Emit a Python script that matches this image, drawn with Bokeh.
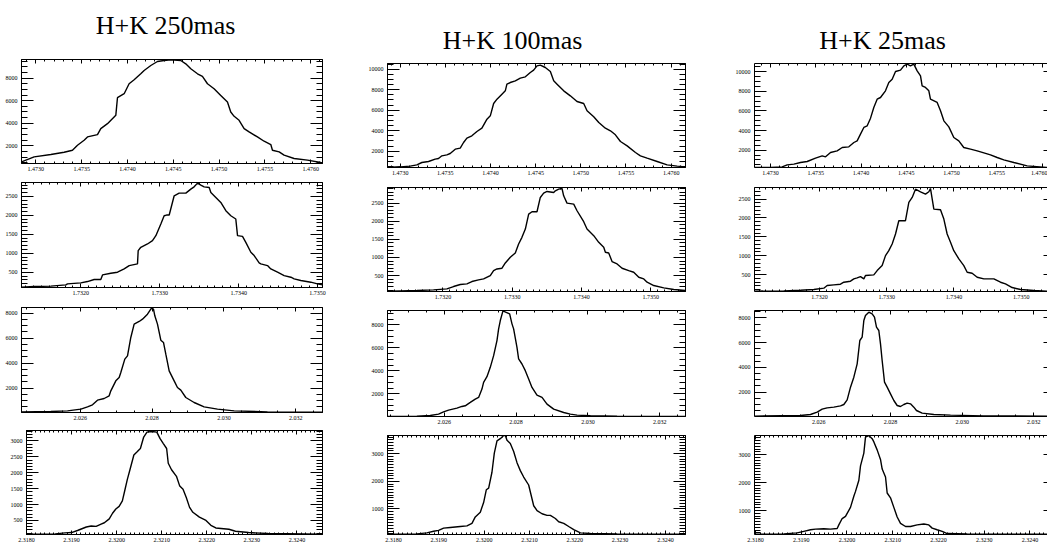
from bokeh.plotting import figure
from bokeh.layouts import row, column
from bokeh.models import Range1d, LinearAxis, SingleIntervalTicker, PrintfTickFormatter, Label
from bokeh.embed import file_html
from bokeh.resources import INLINE

# ---------------- data (wavelength in micron, counts) ----------------
titles = ["H+K 250mas", "H+K 100mas", "H+K 25mas"]

# column 1 : H+K 250mas
c1r1_wave = [1.472844, 1.472982, 1.473164, 1.473309, 1.473400, 1.473455, 1.473527, 1.473564, 1.473673, 1.473709,
             1.473782, 1.473873, 1.473891, 1.473964, 1.474018, 1.474073, 1.474145, 1.474182, 1.474255, 1.474327,
             1.474400, 1.474473, 1.474582, 1.474636, 1.474691, 1.474764, 1.474818, 1.474873, 1.474945, 1.475018,
             1.475091, 1.475127, 1.475164, 1.475218, 1.475273, 1.475327, 1.475418, 1.475491, 1.475564, 1.475582,
             1.475655, 1.475709, 1.475818, 1.475964, 1.476109]
c1r1_flux = [588, 1029, 1235, 1441, 1618, 2059, 2500, 2794, 3000, 3529,
             3970, 4706, 6265, 6618, 7500, 7853, 8382, 8676, 9117, 9470,
             9558, 9617, 9558, 9264, 8823, 8382, 8147, 7500, 7059, 6471,
             5882, 5000, 4617, 4265, 3529, 3235, 2794, 2412, 2118, 1618,
             1471, 1176, 882, 735, 529]

c1r2_wave = [1.731248, 1.731409, 1.731620, 1.731810, 1.731831, 1.732000, 1.732084, 1.732169, 1.732253, 1.732275,
             1.732380, 1.732465, 1.732549, 1.732613, 1.732718, 1.732727, 1.732760, 1.732845, 1.732908, 1.732951,
             1.733014, 1.733056, 1.733086, 1.733120, 1.733183, 1.733246, 1.733331, 1.733394, 1.733436, 1.733479,
             1.733521, 1.733563, 1.733627, 1.733648, 1.733711, 1.733774, 1.733838, 1.733901, 1.733964, 1.733986,
             1.734049, 1.734091, 1.734155, 1.734197, 1.734260, 1.734281, 1.734366, 1.734408, 1.734493, 1.734577,
             1.734662, 1.734704, 1.734788, 1.734915, 1.734999, 1.735063]
c1r2_flux = [105, 123, 132, 167, 193, 219, 254, 307, 307, 430,
             474, 500, 588, 675, 719, 1070, 1158, 1246, 1333, 1465,
             1772, 1991, 2009, 2009, 2518, 2588, 2588, 2693, 2754, 2851,
             2798, 2754, 2737, 2605, 2474, 2342, 2123, 1991, 1904, 1465,
             1447, 1289, 1026, 939, 746, 719, 675, 588, 500, 412,
             368, 325, 281, 237, 193, 167]

c1r3_wave = [2.024368, 2.025184, 2.025648, 2.026019, 2.026204, 2.026343, 2.026482, 2.026668, 2.026807, 2.026853,
             2.026992, 2.027085, 2.027131, 2.027242, 2.027317, 2.027409, 2.027502, 2.027641, 2.027734, 2.027873,
             2.027947, 2.027984, 2.028040, 2.028077, 2.028151, 2.028244, 2.028318, 2.028383, 2.028476, 2.028615,
             2.028707, 2.028800, 2.028939, 2.029171, 2.029449, 2.029820, 2.030284, 2.031211, 2.032741]
c1r3_flux = [106, 133, 186, 320, 506, 667, 1040, 1173, 1387, 1787,
             2587, 2853, 3253, 4320, 4587, 6054, 7121, 7334, 7521, 7921,
             8241, 8400, 8320, 7787, 7121, 5840, 5654, 4720, 3387, 2587,
             2053, 1840, 1253, 853, 506, 320, 186, 106, 80]

c1r4_wave = [2.318000, 2.318113, 2.318636, 2.318855, 2.319000, 2.319145, 2.319327, 2.319436, 2.319545, 2.319655,
             2.319727, 2.319836, 2.319909, 2.319982, 2.320055, 2.320127, 2.320178, 2.320236, 2.320295, 2.320382,
             2.320455, 2.320527, 2.320600, 2.320673, 2.320782, 2.320891, 2.320964, 2.321036, 2.321109, 2.321145,
             2.321218, 2.321327, 2.321400, 2.321473, 2.321545, 2.321618, 2.321691, 2.321836, 2.321982, 2.322091,
             2.322200, 2.322491, 2.322636, 2.322927, 2.323364, 2.324564]
c1r4_flux = [65, 68, 78, 109, 119, 191, 294, 325, 315, 387,
             428, 551, 726, 860, 942, 1117, 1426, 1786, 2095, 2558,
             2661, 2764, 3124, 3278, 3300, 3278, 3073, 2918, 2764, 2301,
             2095, 1889, 1580, 1478, 1220, 912, 757, 603, 500, 346,
             263, 222, 160, 119, 88, 68]

# column 2 : H+K 100mas
c2r1_wave = [1.472860, 1.473000, 1.473111, 1.473185, 1.473240, 1.473314, 1.473388, 1.473425, 1.473462, 1.473517,
             1.473554, 1.473610, 1.473665, 1.473702, 1.473739, 1.473794, 1.473850, 1.473905, 1.473961, 1.473998,
             1.474035, 1.474072, 1.474127, 1.474164, 1.474182, 1.474219, 1.474275, 1.474330, 1.474386, 1.474441,
             1.474478, 1.474515, 1.474552, 1.474607, 1.474663, 1.474700, 1.474737, 1.474811, 1.474884, 1.474958,
             1.475032, 1.475069, 1.475143, 1.475199, 1.475272, 1.475328, 1.475383, 1.475439, 1.475513, 1.475605,
             1.475660, 1.475734, 1.475845, 1.475956, 1.476067, 1.476159]
c2r1_flux = [406, 472, 537, 667, 894, 992, 1220, 1285, 1545, 1642,
             1772, 2195, 2293, 2846, 3268, 3496, 3919, 4244, 5122, 5447,
             6650, 7073, 7561, 7886, 8537, 8699, 8862, 9122, 9252, 9675,
             9902, 10325, 10400, 10163, 9772, 8862, 8537, 7886, 7398, 6845,
             6650, 5935, 5350, 4797, 4244, 3984, 3594, 2943, 2520, 1870,
             1545, 1317, 992, 667, 537, 472]

c2r2_wave = [1.731200, 1.731383, 1.731624, 1.731864, 1.732057, 1.732153, 1.732250, 1.732346, 1.732418, 1.732514,
             1.732587, 1.732683, 1.732731, 1.732779, 1.732852, 1.732900, 1.732972, 1.733044, 1.733092, 1.733140,
             1.733189, 1.733237, 1.733285, 1.733357, 1.733405, 1.733453, 1.733502, 1.733598, 1.733622, 1.733670,
             1.733718, 1.733742, 1.733790, 1.733887, 1.733935, 1.734031, 1.734079, 1.734176, 1.734248, 1.734320,
             1.734344, 1.734392, 1.734440, 1.734513, 1.734585, 1.734681, 1.734753, 1.734826, 1.734898, 1.734946,
             1.735042, 1.735187, 1.735331, 1.735500]
c2r2_flux = [69, 78, 87, 106, 133, 197, 252, 271, 335, 381,
             408, 500, 638, 683, 702, 849, 1005, 1124, 1372, 1555,
             1784, 2197, 2261, 2261, 2656, 2775, 2821, 2794, 2839, 2885,
             2904, 2702, 2500, 2472, 2289, 1986, 1784, 1601, 1417, 1280,
             1142, 1124, 885, 821, 702, 638, 592, 454, 408, 317,
             225, 161, 115, 87]

c2r3_wave = [2.024421, 2.025238, 2.025610, 2.025842, 2.025981, 2.026121, 2.026353, 2.026492, 2.026585, 2.026725,
             2.026864, 2.026957, 2.027050, 2.027096, 2.027189, 2.027282, 2.027375, 2.027468, 2.027514, 2.027561,
             2.027635, 2.027709, 2.027821, 2.027886, 2.027932, 2.028025, 2.028071, 2.028164, 2.028257, 2.028350,
             2.028443, 2.028582, 2.028722, 2.028861, 2.029047, 2.029326, 2.029511, 2.029697, 2.030069, 2.030812,
             2.032716]
c2r3_flux = [30, 50, 108, 224, 428, 574, 748, 894, 952, 1243,
             1534, 1680, 2408, 2990, 3485, 4300, 5319, 6628, 7647, 8375,
             9220, 9100, 8957, 8084, 7647, 6046, 5027, 4591, 4009, 3281,
             2553, 1884, 1680, 1098, 661, 370, 224, 137, 79, 50,
             30]

c2r4_wave = [2.317867, 2.318515, 2.318736, 2.318884, 2.318994, 2.319105, 2.319252, 2.319473, 2.319620, 2.319731,
             2.319804, 2.319915, 2.319988, 2.320047, 2.320099, 2.320172, 2.320224, 2.320283, 2.320356, 2.320430,
             2.320467, 2.320504, 2.320577, 2.320651, 2.320725, 2.320798, 2.320872, 2.320982, 2.321093, 2.321167,
             2.321277, 2.321387, 2.321461, 2.321572, 2.321645, 2.321756, 2.321866, 2.321977, 2.322124, 2.322345,
             2.322934, 2.324443]
c2r4_flux = [87, 98, 133, 191, 225, 306, 330, 364, 387, 480,
             711, 884, 1231, 1694, 1751, 2329, 3023, 3462, 3543, 3659,
             3659, 3485, 3370, 3081, 2676, 2387, 2156, 1867, 1116, 942,
             827, 769, 769, 653, 538, 480, 364, 249, 133, 110,
             98, 87]

# column 3 : H+K 25mas
c3r1_wave = [1.472816, 1.473000, 1.473129, 1.473184, 1.473258, 1.473331, 1.473405, 1.473497, 1.473571, 1.473608,
             1.473663, 1.473736, 1.473792, 1.473865, 1.473921, 1.473957, 1.473994, 1.474031, 1.474068, 1.474105,
             1.474141, 1.474178, 1.474215, 1.474270, 1.474307, 1.474344, 1.474381, 1.474436, 1.474473, 1.474510,
             1.474546, 1.474583, 1.474620, 1.474657, 1.474675, 1.474712, 1.474749, 1.474767, 1.474841, 1.474878,
             1.474915, 1.474970, 1.475025, 1.475080, 1.475135, 1.475209, 1.475283, 1.475357, 1.475430, 1.475504,
             1.475577, 1.475688, 1.475835, 1.476049, 1.476159]
c3r1_flux = [230, 230, 298, 502, 570, 740, 843, 1183, 1421, 1319,
             1762, 1932, 2272, 2340, 2783, 2953, 3634, 4315, 4485, 5268,
             6357, 7208, 7378, 8059, 8910, 9251, 10033, 10170, 10612, 10782,
             10612, 10782, 10102, 9591, 8570, 8400, 8059, 7208, 6868, 6017,
             4996, 4383, 3294, 2953, 2272, 2102, 1932, 1728, 1523, 1251,
             1013, 740, 400, 230, 230]

c3r2_wave = [1.731033, 1.731469, 1.731717, 1.731916, 1.732064, 1.732114, 1.732213, 1.732312, 1.732362, 1.732461,
             1.732511, 1.732560, 1.732610, 1.732660, 1.732684, 1.732808, 1.732858, 1.732932, 1.732982, 1.733031,
             1.733081, 1.733131, 1.733180, 1.733279, 1.733329, 1.733379, 1.733428, 1.733503, 1.733577, 1.733627,
             1.733651, 1.733701, 1.733800, 1.733850, 1.733899, 1.733949, 1.733998, 1.734073, 1.734147, 1.734197,
             1.734271, 1.734346, 1.734445, 1.734594, 1.734693, 1.734767, 1.734866, 1.734990, 1.735189, 1.735377,
             1.735525]
c3r2_flux = [60, 68, 86, 104, 139, 209, 227, 245, 297, 324,
             385, 412, 447, 385, 474, 491, 606, 738, 1002, 1134,
             1311, 1575, 1927, 1927, 2412, 2544, 2764, 2694, 2632, 2694,
             2782, 2236, 2218, 1971, 1575, 1355, 1134, 914, 738, 562,
             535, 430, 385, 385, 297, 253, 156, 104, 77, 60,
             55]

c3r3_wave = [2.024205, 2.025488, 2.025767, 2.025953, 2.026093, 2.026233, 2.026419, 2.026605, 2.026698, 2.026791,
             2.026884, 2.026977, 2.027070, 2.027144, 2.027209, 2.027256, 2.027302, 2.027395, 2.027488, 2.027553,
             2.027609, 2.027674, 2.027721, 2.027767, 2.027833, 2.027907, 2.028000, 2.028093, 2.028186, 2.028279,
             2.028372, 2.028465, 2.028558, 2.028651, 2.028725, 2.028884, 2.029209, 2.029674, 2.030604, 2.032353,
             2.032632]
c3r3_flux = [63, 116, 197, 385, 628, 735, 789, 897, 1004, 1381,
             2404, 3211, 4287, 6171, 6440, 7786, 8189, 8458, 8324, 8055,
             7247, 6978, 5902, 4556, 2807, 2404, 1865, 1327, 924, 843,
             1004, 1112, 1058, 789, 520, 305, 197, 143, 90, 63,
             60]

c3r4_wave = [2.317978, 2.318620, 2.318911, 2.319057, 2.319203, 2.319312, 2.319494, 2.319640, 2.319786, 2.319822,
             2.319895, 2.319968, 2.320077, 2.320150, 2.320187, 2.320260, 2.320296, 2.320369, 2.320405, 2.320478,
             2.320551, 2.320588, 2.320660, 2.320733, 2.320770, 2.320843, 2.320879, 2.320952, 2.321025, 2.321098,
             2.321171, 2.321280, 2.321389, 2.321535, 2.321681, 2.321790, 2.321863, 2.321972, 2.322082, 2.322191,
             2.322629, 2.323357, 2.324363, 2.324582]
c3r4_flux = [154, 166, 200, 257, 314, 337, 349, 337, 360, 486,
             714, 794, 1114, 1514, 1686, 2086, 2600, 3057, 3629, 3686,
             3572, 3457, 3172, 2829, 2486, 2200, 1629, 1457, 1114, 771,
             543, 429, 429, 486, 520, 486, 371, 314, 257, 177,
             166, 154, 154, 154]

# axis extents of each panel (x0, x1, y0, y1)
c1_limits = [(1.472844, 1.476128, 441, 9647), (1.731248, 1.735063, 97, 2868),
             (2.024368, 2.032742, 53, 8453), (2.318000, 2.324567, 58, 3330)]
c2_limits = [(1.472860, 1.476159, 406, 10553), (1.731200, 1.735500, 60, 2931),
             (2.024421, 2.032716, 20, 9248), (2.317867, 2.324443, 75, 3659)]
c3_limits = [(1.472823, 1.476060, 230, 10850), (1.731033, 1.735392, 51, 2808),
             (2.024205, 2.032381, 36, 8593), (2.317978, 2.324385, 143, 3686)]

# tick settings per row
x_steps = [0.0005, 0.001, 0.002, 0.001]
x_minor = [5, 10, 4, 10]
x_formats = ["%.4f", "%.4f", "%.3f", "%.4f"]
y_steps = [[2000, 500, 2000, 500], [2000, 500, 2000, 1000], [2000, 500, 2000, 1000]]
y_minor = {2000: 4, 500: 5, 1000: 10}

data = [
    [(c1r1_wave, c1r1_flux), (c1r2_wave, c1r2_flux), (c1r3_wave, c1r3_flux), (c1r4_wave, c1r4_flux)],
    [(c2r1_wave, c2r1_flux), (c2r2_wave, c2r2_flux), (c2r3_wave, c2r3_flux), (c2r4_wave, c2r4_flux)],
    [(c3r1_wave, c3r1_flux), (c3r2_wave, c3r2_flux), (c3r3_wave, c3r3_flux), (c3r4_wave, c3r4_flux)],
]
limits = [c1_limits, c2_limits, c3_limits]

# ---------------- layout geometry (page has no margin) ----------------
col_widths = [345, 367, 335]
# left border per row (title strip first), right border per column
col_border_left = [[21, 21, 21, 21, 26], [42] * 5, [42] * 5]
col_border_right = [23, 27, 0]
# title strip: (height, label x from frame left, label y from strip bottom)
title_strip = [(40, 144, 15), (58, 125, 18), (58, 128, 18)]
# (height, border_top, border_bottom) for each row
col_rows = [
    [(140, 19, 17), (125, 2, 18), (123, 2, 16), (116, 2, 8)],
    [(126, 5, 17), (124, 3, 17), (124, 2, 16), (112, 3, 9)],
    [(126, 5, 17), (124, 3, 17), (124, 2, 16), (112, 3, 9)],
]

LABEL_FONT = "Liberation Serif"


def style_axis(ax, step, minor, fmt, tick_in, minor_in, labels, standoff=2):
    ax.ticker = SingleIntervalTicker(interval=step, num_minor_ticks=minor)
    ax.formatter = PrintfTickFormatter(format=fmt)
    ax.major_tick_in = tick_in
    ax.major_tick_out = 0
    ax.minor_tick_in = minor_in
    ax.minor_tick_out = 0
    ax.axis_line_color = "black"
    ax.axis_line_width = 1
    ax.major_tick_line_color = "black"
    ax.minor_tick_line_color = "black"
    ax.major_tick_line_width = 1
    ax.minor_tick_line_width = 1
    ax.major_label_text_font = LABEL_FONT
    if labels:
        ax.major_label_text_font_size = "6px"
        ax.major_label_text_color = "black"
        ax.major_label_standoff = standoff
    else:
        ax.major_label_text_font_size = "0px"
        ax.major_label_text_color = None
        ax.major_label_standoff = 0


columns = []
for ci in range(3):
    br = col_border_right[ci]
    th, tx, ty = title_strip[ci]
    tp = figure(width=col_widths[ci], height=th, output_backend="svg", toolbar_location=None,
                x_range=Range1d(0, 1), y_range=Range1d(0, 1),
                x_axis_location=None, y_axis_location=None,
                min_border_left=col_border_left[ci][0], min_border_right=br,
                min_border_top=0, min_border_bottom=0)
    tp.grid.visible = False
    tp.outline_line_color = None
    tp.add_layout(Label(x=tx, y=ty, x_units="screen", y_units="screen", text=titles[ci],
                        text_font="Liberation Serif", text_font_size="26px",
                        text_align="center", text_baseline="middle", text_color="black"))
    figs = [tp]
    for ri in range(4):
        h, bt, bb = col_rows[ci][ri]
        bl = col_border_left[ci][ri + 1]
        x0, x1, y0, y1 = limits[ci][ri]
        wave, flux = data[ci][ri]
        p = figure(width=col_widths[ci], height=h, output_backend="svg", toolbar_location=None,
                   x_range=Range1d(x0, x1), y_range=Range1d(y0, y1),
                   x_axis_location=None, y_axis_location=None,
                   min_border_left=bl, min_border_right=br, min_border_top=bt, min_border_bottom=bb)
        p.grid.visible = False
        p.background_fill_color = "white"
        p.border_fill_color = "white"
        p.outline_line_color = "black" if ci < 2 else None
        p.outline_line_width = 1

        ys = y_steps[ci][ri]
        bottom = LinearAxis()
        style_axis(bottom, x_steps[ri], x_minor[ri], x_formats[ri], 4, 2, True, 3)
        top = LinearAxis()
        style_axis(top, x_steps[ri], x_minor[ri], x_formats[ri], 4, 2, False)
        left = LinearAxis()
        style_axis(left, ys, y_minor[ys], "%d", 12, 6, True, 4)
        right = LinearAxis()
        if ci < 2:
            style_axis(right, ys, y_minor[ys], "%d", 12, 6, False)
        else:
            style_axis(right, ys, y_minor[ys], "%d", 4, 0, False)
            right.axis_line_color = None
        p.add_layout(bottom, "below")
        p.add_layout(top, "above")
        p.add_layout(left, "left")
        p.add_layout(right, "right")

        p.line(wave, flux, line_color="black", line_width=1.4)
        # wrap each panel so that the column does not force equal frame borders
        figs.append(row(p, spacing=0))
    columns.append(column(*figs, spacing=0))

layout = row(*columns, spacing=0)

open("out.html", "w").write(file_html(layout, INLINE))
